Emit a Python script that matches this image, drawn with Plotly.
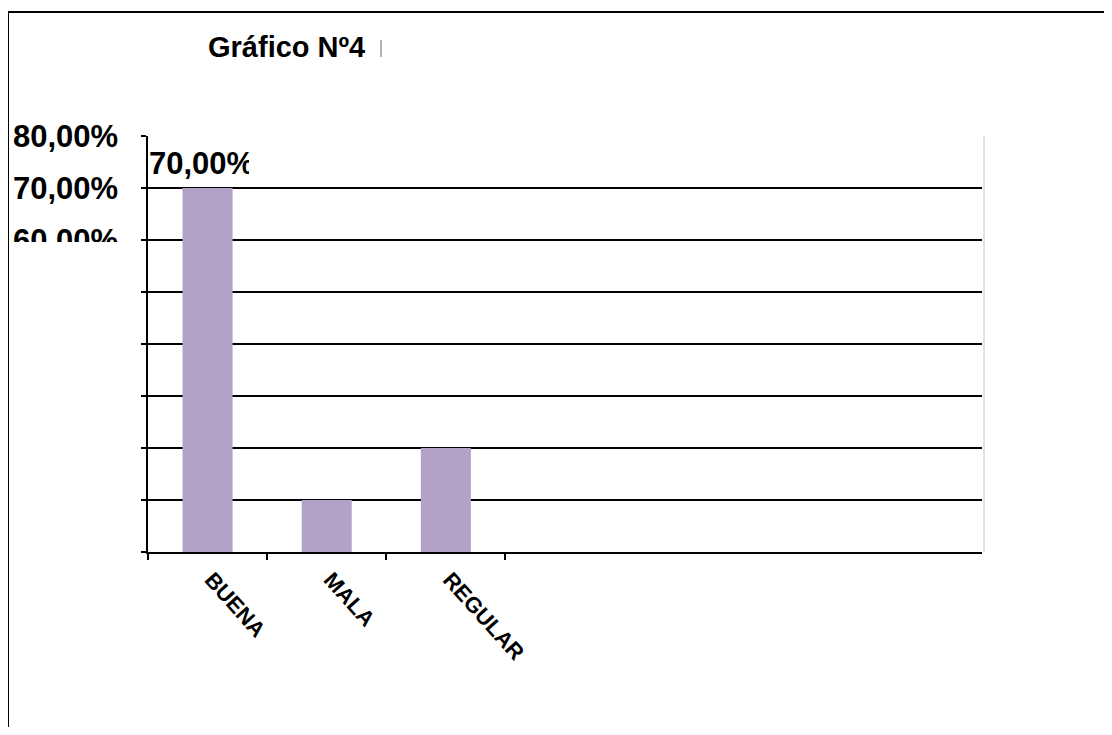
import plotly.graph_objects as go

categories = ["BUENA", "MALA", "REGULAR"]
values = [0.70, 0.10, 0.20]
y_tick_vals = [0.0, 0.1, 0.2, 0.3, 0.4, 0.5, 0.6, 0.7, 0.8]
y_tick_text = ["", "", "", "", "", "", "60,00%", "70,00%", "80,00%"]
data_label = "70,00%"
title_text = "Gráfico Nº4"

FONT = "Liberation Sans, Arial, sans-serif"
# the page body adds an 8px offset; coordinates below are page pixels
OFF = 8
W, H = 1112 - 2 * OFF, 735 - 2 * OFF
PL, PR, PT, PB = 148, 982, 136, 552  # plot area in page pixels
L, T = PL - OFF, PT - OFF
R, B = W - (PR - OFF), H - (PB - OFF)
PW, PH = PR - PL, PB - PT

def px(x):
    return (x - PL) / PW

def py(y):
    return (PB - y) / PH

fig = go.Figure()
fig.add_trace(go.Bar(
    x=categories, y=values, width=0.42,
    marker=dict(color="#B2A2C7", line=dict(width=0)),
    hoverinfo="skip",
))

fig.update_layout(
    width=W, height=H, autosize=False,
    margin=dict(l=L, r=R, t=T, b=B, pad=0, autoexpand=False),
    paper_bgcolor="white", plot_bgcolor="white",
    showlegend=False,
    title=dict(text=title_text, x=(208 - OFF) / W, xanchor="left", y=1 - (47 - OFF) / H, yanchor="middle",
               font=dict(family=FONT, size=29, color="black", weight="bold")),
    xaxis=dict(
        type="category", categoryorder="array", categoryarray=categories,
        range=[-0.5, 6.5], tickson="boundaries", ticks="outside", ticklen=6,
        tickcolor="black", tickwidth=1.5, automargin=False,
        showline=True, linecolor="black", linewidth=2, showgrid=False,
        tickangle=48, tickfont=dict(family=FONT, size=22, color="black", weight="bold"),
        ticklabelstandoff=4, ticklabelshift=4,
    ),
    yaxis=dict(
        range=[0, 0.8], tickvals=y_tick_vals, ticktext=y_tick_text,
        ticks="outside", ticklen=5, tickcolor="black", tickwidth=1.5, automargin=False,
        showline=True, linecolor="black", linewidth=1.5,
        showgrid=True, gridcolor="black", gridwidth=2, zeroline=False,
        tickfont=dict(family=FONT, size=31, color="black", weight="bold"),
        ticklabelstandoff=17,
    ),
    shapes=[
        # outer border
        dict(type="rect", xref="paper", yref="paper", x0=px(8), x1=px(1140), y0=py(760), y1=py(12),
             line=dict(color="black", width=2), fillcolor="rgba(0,0,0,0)", layer="below"),
        # clip lower part of the 60% label
        dict(type="rect", xref="paper", yref="paper", x0=px(10), x1=px(141), y0=py(300), y1=py(242),
             line=dict(width=0), fillcolor="white", layer="above"),
        # right plot border
        dict(type="line", xref="paper", yref="paper", x0=px(984), x1=px(984), y0=0, y1=1,
             line=dict(color="#C8C8C8", width=1)),
        # small bar after title
        dict(type="line", xref="paper", yref="paper", x0=px(381), x1=px(381), y0=py(57), y1=py(40),
             line=dict(color="#666666", width=1)),
    ],
    annotations=[
        dict(text=data_label, xref="paper", x=0, xanchor="left", yref="y", y=values[0],
             yanchor="middle", yshift=25, showarrow=False, width=100, align="left", borderpad=0,
             font=dict(family=FONT, size=31, color="black", weight="bold")),
    ],
)

fig.write_html("out.html")
